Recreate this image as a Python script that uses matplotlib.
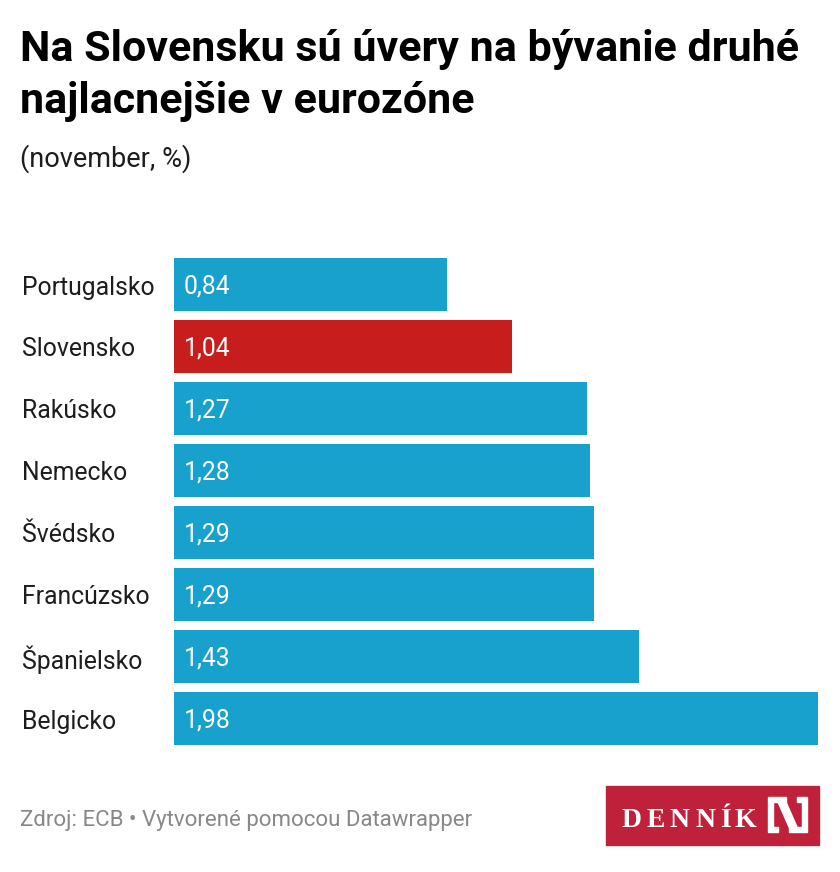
from matplotlib import pyplot as plt
from matplotlib.patches import Rectangle, Polygon
import matplotlib.transforms as mtransforms

plt.rcParams['font.family'] = ['Roboto', 'DejaVu Sans']

countries = ["Portugalsko", "Slovensko", "Rakúsko", "Nemecko", "Švédsko",
             "Francúzsko", "Španielsko", "Belgicko"]
rates = [0.84, 1.04, 1.27, 1.28, 1.29, 1.29, 1.43, 1.98]
highlight = "Slovensko"

BLUE = "#18a1cd"
RED = "#c71e1d"
W, H = 840, 872

fig = plt.figure(figsize=(W / 100, H / 100), dpi=100)
fig.patch.set_facecolor("white")


def fx(px):
    return px / W


def fy(py):
    return 1 - py / H


ax = fig.add_axes([fx(174), fy(745), (818 - 174) / W, (745 - 258) / H])
colors = [RED if c == highlight else BLUE for c in countries]
pos = list(range(len(countries)))
ax.barh(pos, rates, height=53 / 62, color=colors)
ax.set_xlim(0, max(rates))
ax.set_ylim(len(countries) - 1 + 0.5 * 53 / 62, -0.5 * 53 / 62)
ax.axis("off")

# labels sit a few pixels below the bar centre in the original
shift = mtransforms.ScaledTranslation(0, -3 / 100, fig.dpi_scale_trans)
blend = mtransforms.blended_transform_factory(fig.transFigure, ax.transData) + shift
for i, (c, v) in enumerate(zip(countries, rates)):
    ax.text(fx(22), i, c, transform=blend, ha="left", va="center",
            fontsize=17.8, color="#1d1d1d")
    ax.annotate(f"{v:.2f}".replace(".", ","), (0, i), xytext=(10, -2),
                textcoords="offset pixels", ha="left", va="center",
                fontsize=17.8, color="white")

# title, subtitle
fig.text(fx(20), fy(61), "Na Slovensku sú úvery na bývanie druhé",
         fontsize=31, fontweight="bold", color="black", va="baseline")
fig.text(fx(20), fy(113), "najlacnejšie v eurozóne",
         fontsize=31, fontweight="bold", color="black", va="baseline")
fig.text(fx(20), fy(167), "(november, %)", fontsize=19.5, color="#1d1d1d",
         va="baseline")

# footer
fig.text(fx(20), fy(820), "Zdroj: ECB • Vytvorené pomocou Datawrapper",
         fontsize=16, color="#888888", va="center")

# logo
LOGO = "#c0213a"
fig.patches.append(Rectangle((fx(606), fy(845)), (819 - 606) / W, (845 - 786) / H,
                             transform=fig.transFigure, color=LOGO))
for ch, cx in zip("DENNÍK", [632, 656, 679, 705, 725, 745]):
    fig.text(fx(cx), fy(827), ch, fontsize=20, fontweight="bold",
             family="Liberation Serif", color="white", va="baseline", ha="center")


def poly(pts):
    fig.patches.append(Polygon([(fx(x), fy(y)) for x, y in pts], closed=True,
                               transform=fig.transFigure, color="white"))


# bracketed N
poly([(768, 797), (786, 797), (786, 802), (773, 802), (773, 827), (778, 827),
      (778, 832), (768, 832)])
poly([(807, 797), (807, 832), (789, 832), (789, 827), (802, 827), (802, 802),
      (797, 802), (797, 797)])
poly([(778, 802), (786, 802), (797, 827), (789, 827)])

plt.savefig("out.png", dpi=100, facecolor="white")
